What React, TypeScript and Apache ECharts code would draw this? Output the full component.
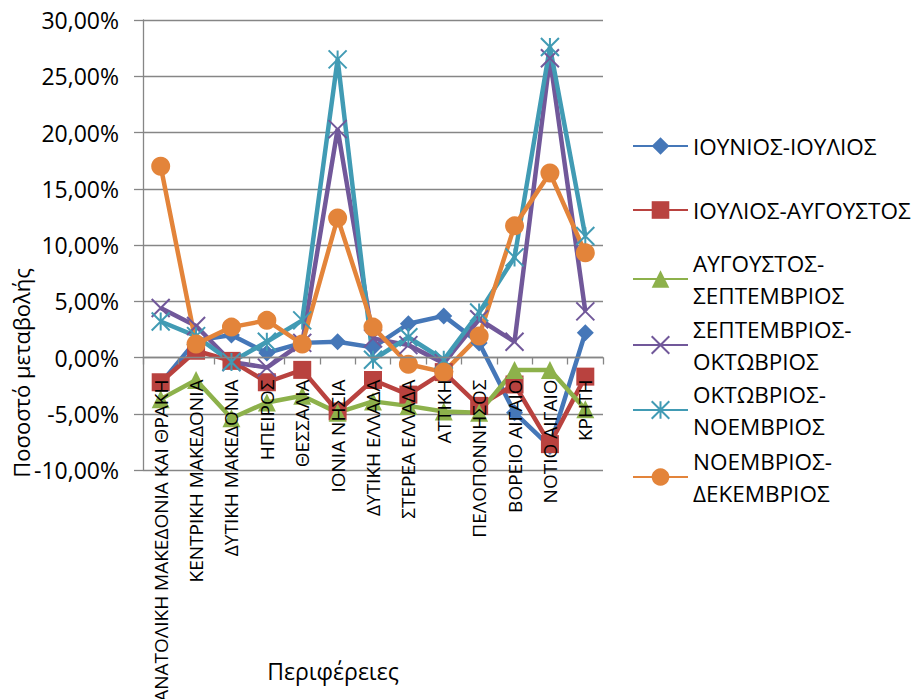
import React, { useEffect, useRef } from "react";
import * as echarts from "echarts";

const categories = [
  "ΑΝΑΤΟΛΙΚΗ ΜΑΚΕΔΟΝΙΑ ΚΑΙ ΘΡΑΚΗ",
  "ΚΕΝΤΡΙΚΗ ΜΑΚΕΔΟΝΙΑ",
  "ΔΥΤΙΚΗ ΜΑΚΕΔΟΝΙΑ",
  "ΗΠΕΙΡΟΣ",
  "ΘΕΣΣΑΛΙΑ",
  "ΙΟΝΙΑ ΝΗΣΙΑ",
  "ΔΥΤΙΚΗ ΕΛΛΑΔΑ",
  "ΣΤΕΡΕΑ ΕΛΛΑΔΑ",
  "ΑΤΤΙΚΗ",
  "ΠΕΛΟΠΟΝΝΗΣΟΣ",
  "ΒΟΡΕΙΟ ΑΙΓΑΙΟ",
  "ΝΟΤΙΟ ΑΙΓΑΙΟ",
  "ΚΡΗΤΗ",
];

const seriesNames = [
  "ΙΟΥΝΙΟΣ-ΙΟΥΛΙΟΣ",
  "ΙΟΥΛΙΟΣ-ΑΥΓΟΥΣΤΟΣ",
  "ΑΥΓΟΥΣΤΟΣ-ΣΕΠΤΕΜΒΡΙΟΣ",
  "ΣΕΠΤΕΜΒΡΙΟΣ-ΟΚΤΩΒΡΙΟΣ",
  "ΟΚΤΩΒΡΙΟΣ-ΝΟΕΜΒΡΙΟΣ",
  "ΝΟΕΜΒΡΙΟΣ-ΔΕΚΕΜΒΡΙΟΣ",
];

// values in percent
const junJul = [-2.3, 1.5, 2.0, 0.4, 1.3, 1.4, 0.9, 3.0, 3.7, 1.3, -4.9, -7.9, 2.2];
const julAug = [-2.2, 0.6, -0.3, -2.2, -1.1, -4.8, -2.0, -3.3, -1.3, -4.3, -2.4, -7.7, -1.7];
const augSep = [-3.7, -2.0, -5.4, -4.0, -3.4, -4.9, -3.9, -4.3, -4.8, -4.9, -1.1, -1.1, -4.6];
const sepOct = [4.4, 2.8, -0.4, -0.9, 1.3, 20.3, 1.7, 1.1, -0.5, 3.4, 1.4, 26.6, 4.1];
const octNov = [3.2, 1.9, -0.4, 1.4, 3.3, 26.5, -0.2, 1.8, -0.2, 4.0, 8.9, 27.6, 10.8];
const novDec = [17.0, 1.2, 2.7, 3.3, 1.2, 12.4, 2.7, -0.6, -1.3, 1.9, 11.7, 16.4, 9.3];

const yTicks = { min: -10, max: 30, step: 5 };

const seriesData = [junJul, julAug, augSep, sepOct, octNov, novDec];
const colors = ["#4577B8", "#B9423F", "#8DB14B", "#71589A", "#419BB4", "#E3843A"];
const symbols = [
  "diamond",
  "rect",
  "triangle",
  "path://M0,0L10,10M10,0L0,10",
  "path://M0,0L10,10M10,0L0,10M5,0L5,10",
  "circle",
];
const symbolSizes = [17, 18, 18, 18, 18, 19];
const legendRowY = [146, 210, 279, 345, 410, 477];

const FONT = '"Open Sans", "Noto Sans", sans-serif';
const GRID = "#868686";

export default function App() {
  const ref = useRef<HTMLDivElement>(null);

  useEffect(() => {
    if (!ref.current) return;
    const chart = echarts.init(ref.current, null, { renderer: "svg" });
    const LH = 32;
    const gridTop = 20;
    const gridBottom = 229;
    const plotH = 699 - gridTop - gridBottom;
    // place the category axis on the zero line (Excel style)
    const zeroOffset = -plotH * (0 - yTicks.min) / (yTicks.max - yTicks.min);

    const legends = seriesNames.map((name, i) => {
      const twoLine = i >= 2;
      const parts = name.split("-");
      const text = twoLine ? parts[0] + "-\n" + parts[1] : name;
      const boxH = twoLine ? LH * 3 : LH;
      return {
        data: [name],
        left: 632,
        top: legendRowY[i] - boxH / 2,
        orient: "vertical",
        padding: 0,
        itemWidth: 55,
        itemHeight: 22,
        itemGap: 0,
        formatter: () => text,
        textStyle: {
          fontFamily: FONT,
          fontSize: 22.5,
          color: "#000",
          lineHeight: LH,
          padding: twoLine ? [LH, 0, 0, 0] : 0,
        },
      };
    });

    chart.setOption({
      animation: false,
      backgroundColor: "#fff",
      grid: {
        left: 143,
        right: 312,
        top: gridTop,
        bottom: gridBottom,
        containLabel: false,
        outerBoundsMode: "none",
      },
      legend: legends,
      xAxis: {
        type: "category",
        data: categories,
        boundaryGap: true,
        offset: zeroOffset,
        z: 10,
        axisLine: { onZero: false, lineStyle: { color: GRID, width: 1.3 } },
        axisTick: { show: true, length: 7, lineStyle: { color: GRID, width: 1.3 } },
        axisLabel: {
          rotate: 90,
          interval: 0,
          margin: 22,
          fontFamily: FONT,
          fontSize: 19,
          color: "#000",
        },
        splitLine: { show: false },
      },
      yAxis: {
        type: "value",
        min: yTicks.min,
        max: yTicks.max,
        interval: yTicks.step,
        axisLine: { show: true, lineStyle: { color: GRID, width: 1.3 } },
        axisTick: { show: true, length: 9, lineStyle: { color: GRID, width: 1.3 } },
        axisLabel: {
          margin: 24,
          fontFamily: FONT,
          fontSize: 23,
          color: "#000",
          formatter: (v: number) => v.toFixed(2).replace(".", ",") + "%",
        },
        splitLine: { show: true, lineStyle: { color: GRID, width: 1.3 } },
      },
      series: seriesNames.map((name, i) => ({
        name,
        type: "line",
        data: seriesData[i],
        symbol: symbols[i],
        symbolSize: symbolSizes[i],
        showAllSymbol: true,
        lineStyle: { color: colors[i], width: 4.5 },
        itemStyle:
          i === 3 || i === 4
            ? { color: colors[i], borderColor: colors[i], borderWidth: 2 }
            : { color: colors[i] },
        emphasis: { disabled: true },
      })),
      graphic: [
        {
          type: "text",
          x: 333,
          y: 671,
          style: {
            text: "Περιφέρειες",
            fontFamily: FONT,
            fontSize: 23,
            fill: "#000",
            align: "center",
            verticalAlign: "middle",
          },
        },
        {
          type: "text",
          x: 21,
          y: 373,
          rotation: Math.PI / 2,
          style: {
            text: "Ποσοστό μεταβολής",
            fontFamily: FONT,
            fontSize: 22,
            fill: "#000",
            align: "center",
            verticalAlign: "middle",
          },
        },
      ],
    });

    return () => chart.dispose();
  }, []);

  return <div ref={ref} style={{ width: 915, height: 699, position: "absolute", left: 0, top: 0 }} />;
}
